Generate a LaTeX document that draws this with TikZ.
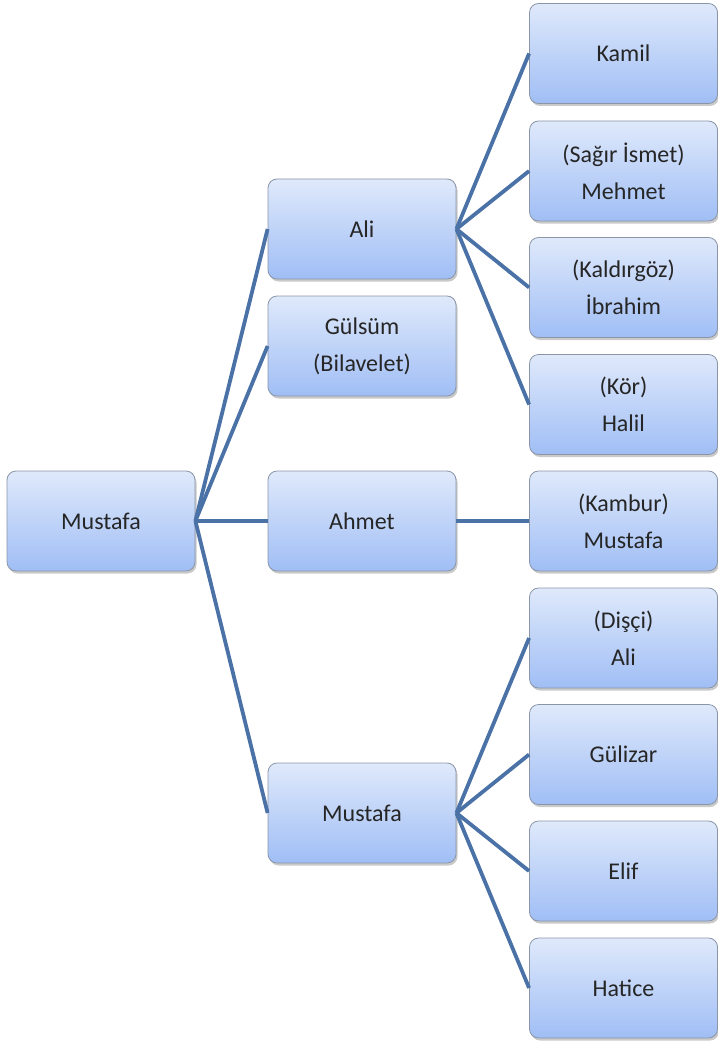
\documentclass[tikz,border=0pt]{standalone}
\usepackage{fontspec}
\setmainfont{Carlito}
\usetikzlibrary{shadows}
\definecolor{boxtop}{HTML}{DFE9FB}
\definecolor{boxbot}{HTML}{A0BEF5}
\definecolor{boxline}{HTML}{8A96A8}
\definecolor{linkcol}{HTML}{4A72A6}
\tikzset{
  famnode/.style={rounded corners=9pt, draw=boxline, line width=0.8pt,
    top color=boxtop, bottom color=boxbot,
    minimum width=188pt, minimum height=100pt, inner sep=2pt,
    align=center, font=\fontsize{24}{37}\selectfont, text=black!85,
    drop shadow={shadow xshift=1.5pt, shadow yshift=-2.5pt, opacity=0.35, fill=black!60}},
  link/.style={draw=linkcol, line width=3.8pt}
}
\begin{document}
\begin{tikzpicture}[x=1pt,y=-1pt]
\useasboundingbox (0,0) rectangle (717,1043);
\node[famnode] (root) at (101,521) {Mustafa};
\node[famnode] (ali) at (362,229) {Ali};
\node[famnode] (gul) at (362,346) {Gülsüm\\(Bilavelet)};
\node[famnode] (ahmet) at (362,521) {Ahmet};
\node[famnode] (must) at (362,813) {Mustafa};
\node[famnode] (kamil) at (623.5,53.5) {Kamil};
\node[famnode] (sagir) at (623.5,171) {(Sağır İsmet)\\Mehmet};
\node[famnode] (kald) at (623.5,287.5) {(Kaldırgöz)\\İbrahim};
\node[famnode] (kor) at (623.5,404.5) {(Kör)\\Halil};
\node[famnode] (kambur) at (623.5,521) {(Kambur)\\Mustafa};
\node[famnode] (disci) at (623.5,638) {(Dişçi)\\Ali};
\node[famnode] (gulizar) at (623.5,754.5) {Gülizar};
\node[famnode] (elif) at (623.5,871) {Elif};
\node[famnode] (hatice) at (623.5,988) {Hatice};
\foreach \c in {ali,gul,ahmet,must}
  \draw[link] (root.east) -- (\c.west);
\foreach \c in {kamil,sagir,kald,kor}
  \draw[link] (ali.east) -- (\c.west);
\draw[link] (ahmet.east) -- (kambur.west);
\foreach \c in {disci,gulizar,elif,hatice}
  \draw[link] (must.east) -- (\c.west);
\end{tikzpicture}
\end{document}
